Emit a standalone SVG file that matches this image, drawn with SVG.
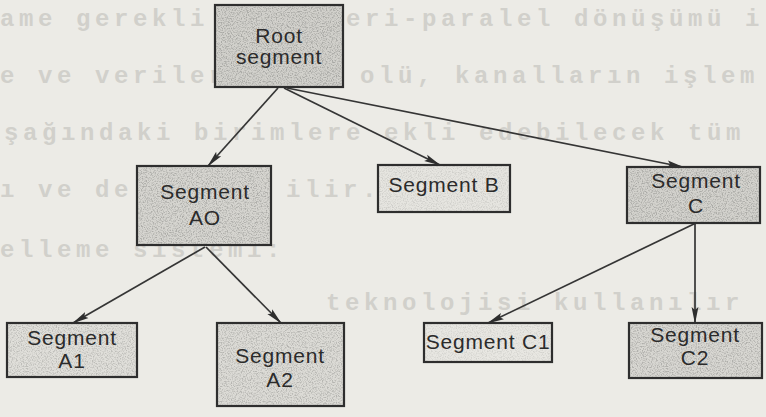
<svg xmlns="http://www.w3.org/2000/svg" width="766" height="417" viewBox="0 0 766 417">
<defs>
<style>
.bg{fill:#ecebe6}
.bleed{font-family:"Liberation Mono","DejaVu Sans Mono",monospace;font-size:24px;font-weight:bold;fill:#d1d0cb;letter-spacing:4.6px}
.box{stroke:#2e2e2e;stroke-width:2.2}
.lbl{font-family:"Liberation Sans",Arial,sans-serif;font-size:21px;fill:#2b2b2b;letter-spacing:0.8px;text-anchor:middle}
.edge{stroke:#353535;stroke-width:1.7;fill:none;marker-end:url(#arr)}
</style>
<filter id="grain" x="0" y="0" width="1" height="1">
<feTurbulence type="fractalNoise" baseFrequency="0.8" numOctaves="2" seed="7"/>
<feColorMatrix type="matrix" values="0 0 0 0 0.38 0 0 0 0 0.38 0 0 0 0 0.36 3.4 0 0 0 -1.5"/>
<feComposite in2="SourceAlpha" operator="in"/>
</filter>
<marker id="arr" markerUnits="userSpaceOnUse" markerWidth="17" markerHeight="10" viewBox="0 0 17 10" refX="16" refY="5" orient="auto">
<path d="M0,1.6 L17,5 L0,8.4 L3,5 Z" fill="#2e2e2e"/>
</marker>
</defs>
<rect class="bg" x="0" y="0" width="766" height="417"/>
<g id="bleed-through">
<text class="bleed" x="0" y="26">ame gerekli</text>
<text class="bleed" x="346" y="26">eri-paralel dönüşümü i</text>
<text class="bleed" x="0" y="83">e ve veriler</text>
<text class="bleed" x="360" y="83">olü, kanalların işlem</text>
<text class="bleed" x="4" y="140">şağındaki birimlere ekli edebilecek tüm</text>
<text class="bleed" x="0" y="197">ı ve de</text>
<text class="bleed" x="286" y="197">ilir.</text>
<text class="bleed" x="0" y="257">elleme sistemi:</text>
<text class="bleed" x="326" y="310">teknolojisi kullanılır</text>
</g>
<g id="connectors">
<line class="edge" x1="278" y1="88" x2="208" y2="166"/>
<line class="edge" x1="284" y1="88" x2="440" y2="165"/>
<line class="edge" x1="287" y1="88" x2="683" y2="167"/>
<line class="edge" x1="205" y1="247" x2="73" y2="323"/>
<line class="edge" x1="206" y1="247" x2="281" y2="323"/>
<line class="edge" x1="696" y1="223" x2="488" y2="323"/>
<line class="edge" x1="695" y1="223" x2="695" y2="323"/>
</g>
<g id="root">
<rect class="box" x="215" y="5" width="128" height="82" fill="#d2d1cc"/>
<rect x="216" y="6" width="126" height="80" filter="url(#grain)" opacity="0.95"/>
<text class="lbl" x="279" y="43">Root</text>
<text class="lbl" x="279" y="64">segment</text>
</g>
<g id="segA0">
<rect class="box" x="137" y="166" width="134" height="79" fill="#d6d5d0"/>
<rect x="138" y="167" width="132" height="77" filter="url(#grain)" opacity="0.85"/>
<text class="lbl" x="205" y="199">Segment</text>
<text class="lbl" x="205" y="225">AO</text>
</g>
<g id="segB">
<rect class="box" x="378" y="165" width="132" height="47" fill="#e6e5e0"/>
<rect x="379" y="166" width="130" height="45" filter="url(#grain)" opacity="0.35"/>
<text class="lbl" x="444" y="192">Segment B</text>
</g>
<g id="segC">
<rect class="box" x="627" y="167" width="133" height="56" fill="#d3d2cd"/>
<rect x="628" y="168" width="131" height="54" filter="url(#grain)" opacity="0.9"/>
<text class="lbl" x="696" y="188">Segment</text>
<text class="lbl" x="696" y="213">C</text>
</g>
<g id="segA1">
<rect class="box" x="7" y="323" width="130" height="54" fill="#e0dfda"/>
<rect x="8" y="324" width="128" height="52" filter="url(#grain)" opacity="0.6"/>
<text class="lbl" x="72" y="345">Segment</text>
<text class="lbl" x="72" y="368">A1</text>
</g>
<g id="segA2">
<rect class="box" x="217" y="323" width="127" height="83" fill="#dcdbd6"/>
<rect x="218" y="324" width="125" height="81" filter="url(#grain)" opacity="0.7"/>
<text class="lbl" x="280" y="363">Segment</text>
<text class="lbl" x="280" y="387">A2</text>
</g>
<g id="segC1">
<rect class="box" x="424" y="323" width="128" height="39" fill="#e8e7e2"/>
<rect x="425" y="324" width="126" height="37" filter="url(#grain)" opacity="0.3"/>
<text class="lbl" x="488" y="349">Segment C1</text>
</g>
<g id="segC2">
<rect class="box" x="629" y="323" width="133" height="55" fill="#d8d7d2"/>
<rect x="630" y="324" width="131" height="53" filter="url(#grain)" opacity="0.8"/>
<text class="lbl" x="695" y="342">Segment</text>
<text class="lbl" x="695" y="365">C2</text>
</g>
</svg>
